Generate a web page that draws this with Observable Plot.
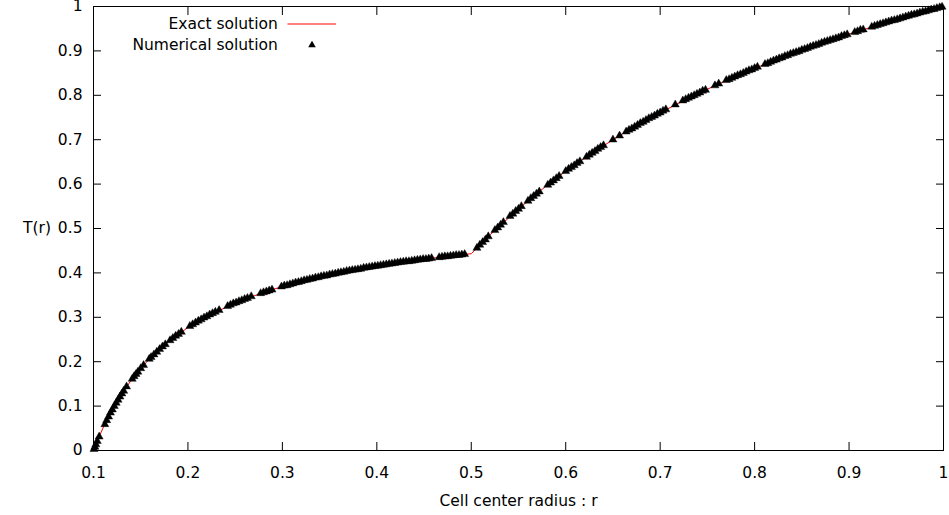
<!DOCTYPE html>
<html>
<head>
<meta charset="utf-8">
<script src="https://cdn.jsdelivr.net/npm/d3@7"></script>
<script src="https://cdn.jsdelivr.net/npm/@observablehq/plot@0.6"></script>
<style>
  html, body { margin: 0; padding: 0; background: #fff; }
  #chart { width: 949px; height: 515px; }
</style>
</head>
<body>
<div id="chart"></div>
<script>
// ---- data ----
const xTicks = [0.1, 0.2, 0.3, 0.4, 0.5, 0.6, 0.7, 0.8, 0.9, 1];
const xTickLabels = ["0.1", "0.2", "0.3", "0.4", "0.5", "0.6", "0.7", "0.8", "0.9", "1"];
const yTicks = [0, 0.1, 0.2, 0.3, 0.4, 0.5, 0.6, 0.7, 0.8, 0.9, 1];
const yTickLabels = ["0", "0.1", "0.2", "0.3", "0.4", "0.5", "0.6", "0.7", "0.8", "0.9", "1"];

const xLabel = "Cell center radius : r";
const yLabel = "T(r)";
const seriesNames = ["Exact solution", "Numerical solution"];

// exact solution curve (r, T)
const exactR = [0.1, 0.1025, 0.105, 0.11, 0.115, 0.12, 0.13, 0.14, 0.15, 0.16,
  0.18, 0.2, 0.22, 0.25, 0.28, 0.3, 0.33, 0.36, 0.4, 0.44,
  0.47, 0.5, 0.52, 0.55, 0.58, 0.6, 0.63, 0.66, 0.7, 0.74,
  0.78, 0.82, 0.86, 0.9, 0.94, 0.97, 1.0];
const exactT = [0, 0.0135, 0.0264, 0.0504, 0.0722, 0.0923, 0.1279, 0.1583, 0.1847, 0.2078,
  0.2462, 0.277, 0.3022, 0.3324, 0.3562, 0.3693, 0.3861, 0.4001, 0.4155, 0.4281,
  0.4361, 0.4432, 0.486, 0.544, 0.597, 0.629, 0.673, 0.713, 0.761, 0.804,
  0.843, 0.878, 0.909, 0.938, 0.964, 0.983, 1.0];

// numerical solution points [r, T]
const numPoints = [
  [0.1005,0.003],[0.1015,0.008],[0.1025,0.0135],[0.104,0.021],[0.106,0.031],
  [0.112,0.059],[0.114,0.068],[0.116,0.076],[0.118,0.085],[0.120,0.092],[0.122,0.100],[0.124,0.107],[0.126,0.114],
  [0.128,0.121],[0.130,0.128],[0.132,0.134],[0.135,0.144],
  [0.141,0.161],[0.143,0.167],[0.145,0.172],[0.147,0.177],[0.150,0.185],[0.153,0.192],
  [0.159,0.206],[0.161,0.210],[0.164,0.216],[0.167,0.222],[0.170,0.228],[0.173,0.234],[0.176,0.239],
  [0.181,0.248],[0.184,0.253],[0.187,0.258],[0.190,0.262],[0.193,0.267],
  [0.202,0.280],[0.205,0.284],[0.208,0.288],[0.211,0.292],[0.214,0.295],[0.217,0.299],[0.220,0.302],
  [0.223,0.306],[0.226,0.309],[0.229,0.312],[0.233,0.316],
  [0.242,0.325],[0.245,0.328],[0.248,0.331],[0.251,0.333],[0.254,0.336],[0.257,0.338],[0.260,0.341],
  [0.263,0.343],[0.267,0.347],
  [0.277,0.354],[0.280,0.356],[0.283,0.358],[0.286,0.360],[0.289,0.362],
  [0.299,0.369],[0.302,0.371],[0.305,0.372],[0.308,0.374],[0.311,0.376],[0.314,0.378],[0.317,0.379],
  [0.320,0.381],[0.323,0.383],[0.326,0.384],[0.329,0.386],[0.332,0.387],[0.335,0.389],[0.338,0.390],
  [0.341,0.392],[0.344,0.393],[0.347,0.394],[0.350,0.396],[0.353,0.397],[0.356,0.398],[0.359,0.400],
  [0.362,0.401],[0.365,0.402],[0.368,0.404],[0.371,0.405],[0.374,0.406],[0.377,0.407],[0.380,0.408],
  [0.383,0.409],[0.386,0.411],[0.389,0.412],[0.392,0.413],[0.395,0.414],[0.398,0.415],[0.401,0.416],
  [0.404,0.417],[0.407,0.418],[0.410,0.419],[0.413,0.420],[0.416,0.421],[0.419,0.422],[0.422,0.423],
  [0.425,0.424],[0.428,0.425],[0.431,0.426],[0.434,0.426],[0.437,0.427],[0.440,0.428],[0.443,0.429],
  [0.446,0.430],[0.449,0.431],[0.452,0.431],[0.455,0.432],[0.458,0.433],
  [0.466,0.435],[0.469,0.436],[0.472,0.437],[0.475,0.437],[0.478,0.438],[0.481,0.439],[0.484,0.440],
  [0.487,0.440],[0.490,0.441],[0.493,0.442],
  [0.506,0.456],[0.509,0.463],[0.512,0.469],[0.515,0.475],[0.518,0.482],
  [0.525,0.496],[0.528,0.502],[0.531,0.508],[0.534,0.514],
  [0.541,0.528],[0.544,0.533],[0.547,0.539],[0.550,0.544],[0.553,0.550],
  [0.560,0.562],[0.563,0.568],[0.566,0.573],[0.569,0.578],[0.572,0.583],
  [0.581,0.598],[0.584,0.603],[0.587,0.608],[0.590,0.613],[0.593,0.618],
  [0.600,0.629],[0.603,0.634],[0.606,0.638],[0.609,0.642],[0.612,0.647],[0.615,0.651],
  [0.622,0.661],[0.625,0.666],[0.628,0.670],[0.631,0.674],[0.634,0.679],[0.637,0.683],[0.640,0.687],
  [0.650,0.700],[0.657,0.709],
  [0.664,0.718],[0.667,0.722],[0.670,0.725],[0.673,0.729],[0.676,0.733],[0.679,0.737],[0.682,0.740],
  [0.685,0.744],[0.688,0.748],[0.691,0.751],[0.694,0.754],[0.697,0.758],[0.700,0.761],[0.703,0.765],
  [0.706,0.768],
  [0.716,0.779],
  [0.724,0.788],[0.727,0.791],[0.730,0.794],[0.733,0.797],[0.736,0.800],[0.739,0.803],[0.742,0.806],
  [0.745,0.810],[0.748,0.812],
  [0.758,0.822],[0.762,0.826],
  [0.770,0.834],[0.773,0.836],[0.776,0.839],[0.779,0.842],[0.782,0.845],[0.785,0.847],[0.788,0.850],
  [0.791,0.853],[0.794,0.856],[0.797,0.858],[0.800,0.861],[0.803,0.864],
  [0.811,0.870],[0.814,0.872],[0.817,0.875],[0.820,0.878],[0.823,0.880],[0.826,0.883],[0.829,0.885],
  [0.832,0.888],[0.835,0.890],[0.838,0.893],[0.841,0.895],[0.844,0.897],[0.847,0.899],[0.850,0.902],
  [0.853,0.904],[0.856,0.906],[0.859,0.909],[0.862,0.911],[0.865,0.913],[0.868,0.915],[0.871,0.918],
  [0.874,0.920],[0.877,0.922],[0.880,0.924],[0.883,0.926],[0.886,0.928],[0.889,0.930],[0.892,0.933],
  [0.895,0.935],[0.898,0.937],
  [0.906,0.942],[0.909,0.944],[0.912,0.947],[0.915,0.948],
  [0.924,0.954],[0.927,0.956],[0.930,0.958],[0.933,0.960],[0.936,0.962],[0.939,0.964],[0.942,0.966],
  [0.945,0.968],[0.948,0.969],[0.951,0.971],[0.954,0.973],[0.957,0.975],[0.960,0.977],[0.963,0.979],
  [0.966,0.981],[0.969,0.982],[0.972,0.984],[0.975,0.986],[0.978,0.988],[0.981,0.989],[0.984,0.991],
  [0.987,0.993],[0.990,0.994],[0.993,0.996],[0.996,0.998],[0.9985,0.999]
];

// ---- build tables for the library ----
const exact = exactR.map((r, i) => ({r, T: exactT[i]}));
const numerical = numPoints.map(([r, T]) => ({r, T}));
const xFmt = d => xTickLabels[xTicks.indexOf(d)];
const yFmt = d => yTickLabels[yTicks.indexOf(d)];

const ink = "#000";
const triR = 3.0;

const plot = Plot.plot({
  width: 949,
  height: 515,
  marginLeft: 93,
  marginRight: 6,
  marginTop: 6,
  marginBottom: 65,
  style: {fontFamily: "DejaVu Sans", fontSize: "15.5px", color: ink, background: "#fff"},
  x: {domain: [0.1, 1], ticks: xTicks},
  y: {domain: [0, 1], ticks: yTicks},
  marks: [
    // inward ticks on all four sides
    Plot.axisX({anchor: "bottom", ticks: xTicks, tickSize: -8, tickFormat: () => "", label: null, stroke: ink}),
    Plot.axisX({anchor: "top", ticks: xTicks, tickSize: -8, tickFormat: () => "", label: null, stroke: ink}),
    Plot.axisY({anchor: "left", ticks: yTicks, tickSize: -8, tickFormat: () => "", label: null, stroke: ink}),
    Plot.axisY({anchor: "right", ticks: yTicks, tickSize: -8, tickFormat: () => "", label: null, stroke: ink}),
    // tick labels
    Plot.axisX({anchor: "bottom", ticks: xTicks, tickSize: 0, tickPadding: 16, tickFormat: xFmt, label: null, fill: ink}),
    Plot.axisY({anchor: "left", ticks: yTicks, tickSize: 0, tickPadding: 11, tickFormat: yFmt, label: null, fill: ink}),
    Plot.frame({stroke: ink, strokeWidth: 1}),
    // axis titles
    Plot.text([xLabel], {frameAnchor: "bottom", lineAnchor: "middle", dy: 50.5, fill: ink}),
    Plot.text([yLabel], {frameAnchor: "left", lineAnchor: "middle", dx: -70.5, fill: ink}),
    // data
    Plot.line(exact, {x: "r", y: "T", stroke: "red", strokeWidth: 1}),
    Plot.dot(numerical, {x: "r", y: "T", symbol: "triangle", r: triR, fill: ink, stroke: ink, strokeWidth: 0.4}),
    // legend
    Plot.text([seriesNames[0]], {frameAnchor: "top-left", lineAnchor: "middle", dx: 184.3, dy: 18, textAnchor: "end", fill: ink}),
    Plot.text([seriesNames[1]], {frameAnchor: "top-left", lineAnchor: "middle", dx: 184.3, dy: 38.5, textAnchor: "end", fill: ink}),
    Plot.dot([seriesNames[1]], {frameAnchor: "top-left", dx: 218.5, dy: 38.5, symbol: "triangle", r: 2.8, fill: ink, stroke: "none"})
  ]
});

// legend line sample for the exact solution
d3.select(plot).append("line")
  .attr("x1", 287.5).attr("x2", 336)
  .attr("y1", 24).attr("y2", 24)
  .attr("stroke", "red").attr("stroke-width", 1);

document.getElementById("chart").appendChild(plot);
</script>
</body>
</html>
